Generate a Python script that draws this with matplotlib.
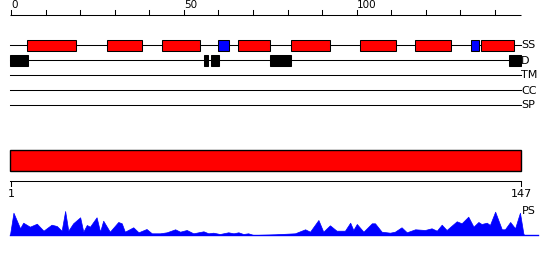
import matplotlib
matplotlib.use("Agg")
import matplotlib.pyplot as plt
from matplotlib.patches import Rectangle

# ---------------- data ----------------
seq_len = 147
top_ticks = list(range(0, 141, 10))
top_labels = {0: "0", 50: "50", 100: "100"}

track_names = ["SS", "D", "TM", "CC", "SP"]

helices = [(4.7, 18.7), (27.9, 37.8), (43.8, 54.8), (65.8, 75.0),
           (81.1, 92.2), (101.0, 111.3), (117.0, 127.2), (136.0, 145.4)]
strands = [(60.0, 63.0), (133.2, 135.3)]
disorder = [(-0.3, 4.8), (55.8, 57.0), (57.9, 60.1), (74.9, 81.1), (144.1, 147.5)]

domain = [(-0.3, 147.5)]

ps_pos = [0.7, 1.7, 3.6, 4.5, 6.4, 8.4, 10.3, 12.6, 14.1, 15.5, 16.5, 17.4, 18.8,
          20.8, 21.7, 22.7, 23.6, 25.5, 26.5, 27.4, 29.3, 31.7, 32.7, 33.6, 36.0,
          37.5, 39.8, 41.3, 43.7, 45.6, 48.0, 49.4, 51.3, 53.2, 56.1, 57.5, 58.9,
          60.8, 63.2, 64.7, 66.1, 67.5, 68.9, 70.4, 76.6, 82.3, 85.2, 86.6, 89.0,
          90.4, 92.3, 94.2, 96.6, 98.1, 99.0, 100.0, 101.9, 104.3, 105.2, 107.1,
          109.5, 110.9, 112.8, 114.3, 116.7, 119.5, 121.4, 122.9, 124.3, 125.7,
          128.6, 130.0, 131.9, 133.4, 134.8, 135.7, 137.2, 138.1, 139.6, 141.5,
          142.4, 143.9, 145.3, 146.7, 147.7, 148.0]
ps_val = [0, 22.3, 6.7, 12.3, 8.3, 11.3, 4.3, 10.3, 9.0, 4.3, 24.0, 4.3, 11.7,
          17.7, 3.3, 10.0, 8.3, 17.7, 3.3, 14.3, 3.3, 13.0, 11.7, 3.3, 7.7,
          2.7, 6.0, 1.7, 1.7, 2.7, 5.7, 3.3, 5.0, 1.7, 3.7, 1.7, 2.3,
          1.0, 2.7, 1.7, 2.7, 1.0, 1.7, 0, 0.7, 1.7, 5.7, 3.3, 15.0,
          3.3, 9.7, 4.3, 4.3, 12.3, 5.0, 11.0, 3.3, 11.7, 11.7, 3.3,
          2.3, 3.3, 7.7, 2.7, 5.7, 5.0, 6.7, 4.3, 10.3, 5.0,
          13.7, 11.7, 18.3, 8.3, 13.0, 11.0, 12.3, 10.0, 23.3, 5.7,
          5.7, 13.0, 6.7, 22.3, 1.0, 0]

# ---------------- figure ----------------
W, H = 550, 260
fig = plt.figure(figsize=(W / 100, H / 100), dpi=100)
plt.rcParams['font.family'] = ['DejaVu Sans']

# top axes: position units horizontally, pixel rows vertically
ax = fig.add_axes([0, 0, 1, 1])
ppr = 3.457
x0 = 11
ax.set_xlim(-x0 / ppr, (W - x0) / ppr)
ax.set_ylim(H, 0)
ax.axis('off')

lw = 0.75
# top ruler
ax.plot([-0.3, 147.5], [15, 15], color='black', lw=lw, solid_capstyle='butt')
for t in top_ticks:
    ax.plot([t, t], [15, 10], color='black', lw=lw)
for t, lab in top_labels.items():
    ax.text(t, 10.5, lab, ha='left', va='bottom', fontsize=7.5)

track_y = {"SS": 45, "D": 60, "TM": 75, "CC": 90, "SP": 105}
for name in track_names:
    y = track_y[name]
    ax.plot([-0.3, 147.5], [y, y], color='black', lw=lw, zorder=1)
    ax.text(147.5, y + 0.5, name, ha='left', va='center', fontsize=8)

for s, e in helices:
    ax.add_patch(Rectangle((s, 40), e - s, 11, facecolor='#ff0000',
                           edgecolor='black', lw=lw, zorder=2))
for s, e in strands:
    ax.add_patch(Rectangle((s, 40), e - s, 11, facecolor='#0000ff',
                           edgecolor='black', lw=lw, zorder=2))
for s, e in disorder:
    ax.add_patch(Rectangle((s, 55), e - s, 10.5, facecolor='black',
                           edgecolor='black', lw=lw, zorder=2))
for s, e in domain:
    ax.add_patch(Rectangle((s, 150), e - s, 20.7, facecolor='#ff0000',
                           edgecolor='black', lw=1.0, zorder=2))

# bottom axes: residue units
ax2 = fig.add_axes([0, 0, 1, 1])
ax2.patch.set_alpha(0)
ppr2 = (521 - 11) / (seq_len - 1)
ax2.set_xlim(1 - 11 / ppr2, 1 + (W - 11) / ppr2)
ax2.set_ylim(H, 0)
ax2.axis('off')

ax2.plot([0.7, seq_len], [181, 181], color='black', lw=lw)
for t in (1, seq_len):
    ax2.plot([t, t], [181, 185.5], color='black', lw=lw)
    ax2.text(t, 189, str(t), ha='center', va='top', fontsize=8)
ax2.text(seq_len + 0.2, 211.5, "PS", ha='left', va='center', fontsize=8)

base = 235
ax2.fill_between(ps_pos, [base - v for v in ps_val], base, color='#0000ff',
                 lw=0.5, edgecolor='#0000ff')
ax2.plot([0.7, 152.0], [base, base], color='#0000ff', lw=1.0)

fig.savefig("out.png", dpi=100)
